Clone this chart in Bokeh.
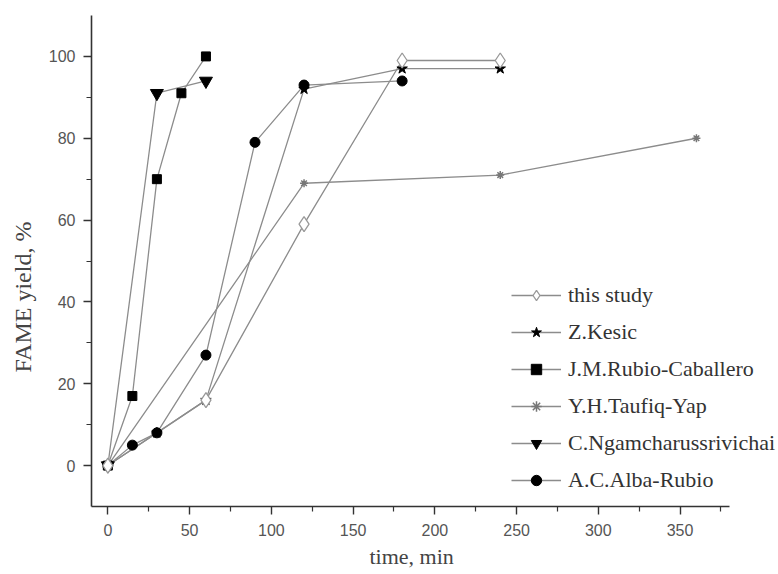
import math
from bokeh.plotting import figure
from bokeh.models import Range1d, FixedTicker, Legend, LegendItem, Title
from bokeh.embed import file_html
from bokeh.resources import INLINE

# ---- data (time in min, FAME yield in %) ----
x_this = [0, 60, 120, 180, 240]
y_this = [0, 16, 59, 99, 99]
x_kesic = [0, 30, 60, 120, 180, 240]
y_kesic = [0, 8, 16, 92, 97, 97]
x_rubio = [0, 15, 30, 45, 60]
y_rubio = [0, 17, 70, 91, 100]
x_taufiq = [0, 120, 240, 360]
y_taufiq = [0, 69, 71, 80]
x_ngam = [0, 30, 60]
y_ngam = [0, 91, 94]
x_alba = [0, 15, 30, 60, 90, 120, 180]
y_alba = [0, 5, 8, 27, 79, 93, 94]

names = ["this study", "Z.Kesic", "J.M.Rubio-Caballero", "Y.H.Taufiq-Yap",
         "C.Ngamcharussrivichai", "A.C.Alba-Rubio"]
x_ticks = [0, 50, 100, 150, 200, 250, 300, 350]
x_minor = [25, 75, 125, 175, 225, 275, 325, 375]
y_ticks = [0, 20, 40, 60, 80, 100]
y_minor = [10, 30, 50, 70, 90]

LINE = "#8c8c8c"

# frame extends to the right edge so that the legend text is not clipped;
# the axis line itself stops at 380 (axis bounds)
p = figure(width=778, height=574, output_backend="svg", toolbar_location=None,
           title=None,
           x_range=Range1d(-10, 410.2), y_range=Range1d(-10, 110),
           min_border_left=91, min_border_right=0, min_border_top=15,
           min_border_bottom=68)
p.outline_line_color = None
p.grid.visible = False
p.background_fill_color = "white"

for ax in (p.xaxis, p.yaxis):
    ax.axis_line_color = "#333333"
    ax.axis_line_width = 1.6
    ax.major_tick_line_color = "#333333"
    ax.major_tick_line_width = 1.4
    ax.minor_tick_line_color = "#333333"
    ax.minor_tick_line_width = 1.2
    ax.major_tick_in = 0
    ax.major_tick_out = 8
    ax.minor_tick_in = 0
    ax.minor_tick_out = 5
    ax.major_label_text_font = "Liberation Sans"
    ax.major_label_text_font_size = "16px"
    ax.major_label_text_color = "#555555"

p.xaxis.ticker = FixedTicker(ticks=x_ticks, minor_ticks=x_minor)
p.yaxis.ticker = FixedTicker(ticks=y_ticks, minor_ticks=y_minor)
p.xaxis.bounds = (-10, 380)
p.xaxis.major_label_standoff = 9
p.yaxis.major_label_standoff = 8

series = [
    (x_this, y_this),
    (x_kesic, y_kesic),
    (x_rubio, y_rubio),
    (x_taufiq, y_taufiq),
    (x_ngam, y_ngam),
    (x_alba, y_alba),
]

lines = []
for xs, ys in series:
    lines.append(p.line(xs, ys, line_color=LINE, line_width=1.3))

m_kesic = p.scatter(x_kesic, y_kesic, marker="star", size=11,
                    fill_color="black", line_color="black")
m_rubio = p.scatter(x_rubio, y_rubio, marker="square", size=9,
                    fill_color="black", line_color="black")
m_taufiq = p.scatter(x_taufiq, y_taufiq, marker="asterisk", size=8,
                     line_color="#777777", line_width=1.5)
m_ngam = p.scatter(x_ngam, y_ngam, marker="inverted_triangle", size=13,
                   fill_color="black", line_color="black")
m_alba = p.scatter(x_alba, y_alba, marker="circle", size=10,
                   fill_color="black", line_color="black")
m_this = p.scatter(x_this, y_this, marker="diamond", size=15,
                   fill_color="white", line_color="#999999", line_width=1.3)

markers = [m_this, m_kesic, m_rubio, m_taufiq, m_ngam, m_alba]
items = [LegendItem(label=n, renderers=[l, m]) for n, l, m in zip(names, lines, markers)]

legend = Legend(items=items, location=(420, 13), orientation="vertical",
                border_line_alpha=0, background_fill_alpha=0, padding=0, margin=0,
                spacing=11, label_height=26, glyph_height=26, glyph_width=50,
                label_standoff=7, label_text_font="Liberation Serif",
                label_text_font_size="22px", label_text_color="#333333")
p.add_layout(legend)

ytitle = Title(text="FAME yield, %", align="left", offset=134, standoff=16,
               vertical_align="top",
               text_font="Liberation Serif", text_font_size="24px",
               text_font_style="normal", text_color="#444444")
p.add_layout(ytitle, "left")
xtitle = Title(text="time, min", align="left", offset=278, standoff=6,
               text_font="Liberation Serif", text_font_size="22px",
               text_font_style="normal", text_color="#444444")
p.add_layout(xtitle, "below")

open("out.html", "w").write(file_html(p, INLINE))
